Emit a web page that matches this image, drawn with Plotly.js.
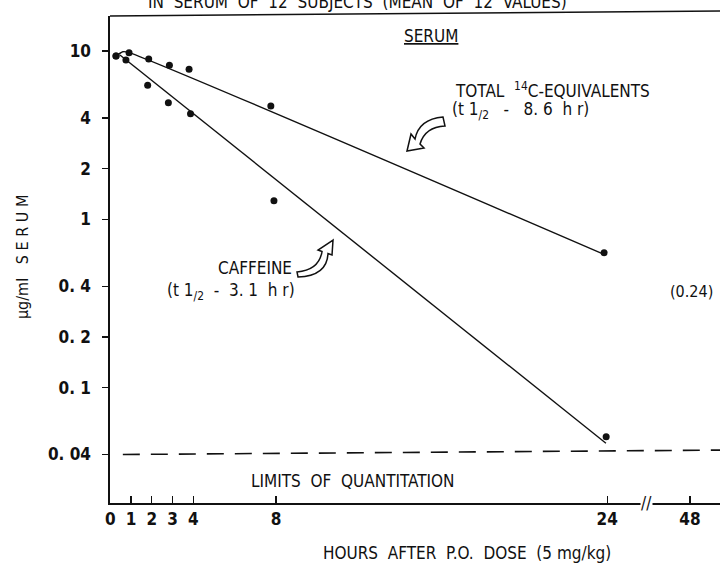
<!DOCTYPE html>
<html>
<head>
<meta charset="utf-8">
<script src="https://cdn.plot.ly/plotly-3.0.1.min.js"></script>
<style>html,body{margin:0;padding:0;background:#fff;} #chart{width:720px;height:563px;}</style>
</head>
<body>
<div id="chart"></div>
<script>
// ---- data (hours are positions on the display axis) ----
const totalHours = [0.27, 0.9, 1.85, 2.85, 3.8, 7.75, 23.85];
const totalConc  = [9.34, 9.77, 8.96, 8.22, 7.78, 4.71, 0.633];
const caffeineHours = [0.27, 0.75, 1.8, 2.8, 3.87, 7.9, 23.95];
const caffeineConc  = [9.34, 8.84, 6.25, 4.93, 4.24, 1.29, 0.051];
// fitted lines drawn in the figure
const totalFitHours = [0.27, 0.6, 0.86, 23.79];
const totalFitConc  = [9.34, 9.9, 9.82, 0.622];
const caffeineFitHours = [0.46, 23.94];
const caffeineFitConc  = [9.47, 0.0467];
// limit of quantitation (dashed)
const limitHours = [0.6, 29.5];
const limitConc  = [0.040, 0.0425];
// axis ticks (48 h shown after an axis break)
const xTickVals = [0, 1, 2, 3, 4, 8, 24, 28];
const xTickText = ['0', '1', '2', '3', '4', '8', '24', '48'];
const yTickVals = [10, 4, 2, 1, 0.4, 0.2, 0.1, 0.04];
const yTickText = ['10', '4', '2', '1', '0.&nbsp;4', '0.&nbsp;2', '0.&nbsp;1', '0.&nbsp;04'];
const breakHour = 25.9;

const FONT = "'Liberation Sans Narrow', 'DejaVu Sans Condensed', 'Arial Narrow', sans-serif";
const INK = '#111';

const traces = [
  {x: totalFitHours, y: totalFitConc, mode: 'lines', line: {color: INK, width: 1.4, shape: 'spline', smoothing: 0.6}, hoverinfo: 'skip'},
  {x: caffeineFitHours, y: caffeineFitConc, mode: 'lines', line: {color: INK, width: 1.4}, hoverinfo: 'skip'},
  {x: totalHours, y: totalConc, mode: 'markers', marker: {color: INK, size: 7}},
  {x: caffeineHours, y: caffeineConc, mode: 'markers', marker: {color: INK, size: 7}},
  {x: limitHours, y: limitConc, mode: 'lines', line: {color: INK, width: 1.6, dash: '17px,11px'}, hoverinfo: 'skip'}
];

function ann(text, x, y, opts) {
  return Object.assign({text: text, x: x, y: y, xref: 'paper', yref: 'paper', showarrow: false,
    xanchor: 'center', yanchor: 'middle', font: {family: FONT, size: 17, color: INK}}, opts || {});
}

const layout = {
  width: 720, height: 563,
  margin: {l: 110, r: 0, t: 16, b: 60},
  paper_bgcolor: '#fff', plot_bgcolor: '#fff',
  showlegend: false,
  xaxis: {
    range: [-0.02, 29.45], showgrid: false, zeroline: false,
    showline: true, linecolor: INK, linewidth: 1.6,
    ticks: 'inside', ticklen: 7, tickwidth: 1.3, tickcolor: INK,
    tickvals: xTickVals, ticktext: xTickText,
    tickfont: {family: FONT, size: 17, color: INK, weight: 'bold'}
  },
  yaxis: {
    type: 'log', range: [-1.686, 1.208], showgrid: false, zeroline: false,
    showline: true, linecolor: INK, linewidth: 1.6,
    ticks: 'outside', ticklen: 6, tickwidth: 1.3, tickcolor: INK,
    tickvals: yTickVals, ticktext: yTickText, ticklabelstandoff: 8,
    tickfont: {family: FONT, size: 17, color: INK, weight: 'bold'}
  },
  shapes: [
    {type: 'line', xref: 'paper', yref: 'paper', x0: 0, x1: 1, y0: 1.0, y1: 1.0103, line: {color: INK, width: 1.6}},
    {type: 'path', xref: 'paper', yref: 'paper', xsizemode: 'pixel', ysizemode: 'pixel', xanchor: 0.4869, yanchor: 0.7228,
     path: 'M 0,0 L 4,17 L 8,12 Q 12,32 36,34 L 38,25 Q 18,24 13,7 L 17,3 Z', fillcolor: '#fff', line: {color: INK, width: 1.5}},
    {type: 'path', xref: 'paper', yref: 'paper', xsizemode: 'pixel', ysizemode: 'pixel', xanchor: 0.3656, yanchor: 0.54,
     path: 'M 0,0 L -15,-10 L -11,-11.5 Q -14,-30 -36,-32 L -35,-37 Q -6,-36 -5,-13.5 L -1,-15 Z', fillcolor: '#fff', line: {color: INK, width: 1.5}}
  ],
  annotations: [
    ann('IN&nbsp;&nbsp;SERUM&nbsp;&nbsp;OF&nbsp;&nbsp;12&nbsp;&nbsp;SUBJECTS&nbsp;&nbsp;(MEAN&nbsp;&nbsp;OF&nbsp;&nbsp;12&nbsp;&nbsp;VALUES)', 0.405, 1.0287, {font: {family: FONT, size: 17, color: INK}}),
    ann('<u>SERUM</u>', 0.526, 0.959),
    ann('TOTAL&nbsp;&nbsp;<sup>14</sup>C-EQUIVALENTS', 0.562, 0.848, {xanchor: 'left'}),
    ann('(t&nbsp;1<sub>/2</sub>&nbsp;&nbsp;&nbsp;-&nbsp;&nbsp;&nbsp;8.&nbsp;6&nbsp;&nbsp;h&nbsp;r)', 0.557, 0.806, {xanchor: 'left'}),
    ann('CAFFEINE', 0.2377, 0.4825),
    ann('(t&nbsp;1<sub>/2</sub>&nbsp;&nbsp;-&nbsp;&nbsp;3.&nbsp;1&nbsp;&nbsp;h&nbsp;r)', 0.0902, 0.434, {xanchor: 'left'}),
    ann('(0.24)', 0.954, 0.4333, {font: {family: FONT, size: 16, color: INK}}),
    ann('LIMITS&nbsp;&nbsp;OF&nbsp;&nbsp;QUANTITATION', 0.398, 0.0452),
    ann('HOURS&nbsp;&nbsp;AFTER&nbsp;&nbsp;P.O.&nbsp;&nbsp;DOSE&nbsp;&nbsp;(5&nbsp;mg/kg)', 0.585, -0.1027),
    ann('\u03bcg/ml&nbsp;&nbsp;&nbsp;S&nbsp;E&nbsp;R&nbsp;U&nbsp;M', -0.1443, 0.505, {textangle: -90, font: {family: FONT, size: 16, color: INK}}),
    {text: '//', x: breakHour, y: 0, xref: 'x', yref: 'paper', showarrow: false, xanchor: 'center', yanchor: 'middle',
     bgcolor: '#fff', borderpad: 0, font: {family: FONT, size: 17, color: INK}}
  ]
};

Plotly.newPlot('chart', traces, layout, {staticPlot: true});
</script>
</body>
</html>
